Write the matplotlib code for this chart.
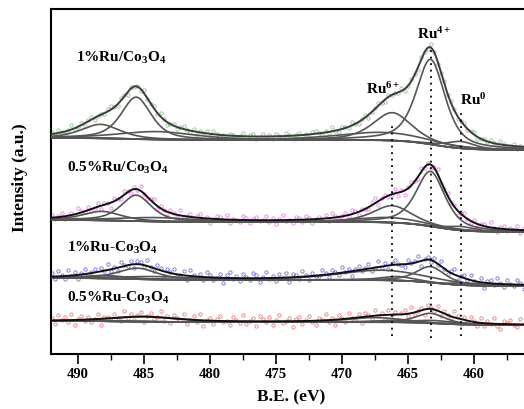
import numpy as np
import matplotlib
matplotlib.use("Agg")
import matplotlib.pyplot as plt
from matplotlib.ticker import MultipleLocator

plt.rcParams["font.family"] = ["Liberation Serif", "DejaVu Serif"]
plt.rcParams["font.weight"] = "bold"
plt.rcParams["mathtext.fontset"] = "custom"
plt.rcParams["mathtext.rm"] = "Liberation Serif:bold"
plt.rcParams["mathtext.it"] = "Liberation Serif:bold"
plt.rcParams["mathtext.bf"] = "Liberation Serif:bold"

# ---- fitted peak parameters (centre eV, height, FWHM eV) per sample ----
green_centers = [488.3, 485.6, 484.0, 467.0, 466.2, 463.3, 461.0]
green_heights = [14, 42, 8, 8, 28, 85, 7]
green_widths = [3.5, 2.7, 7.0, 8.0, 3.5, 2.6, 2.5]
green_base = [216, 214, 204]

magenta_centers = [488.2, 485.6, 484.0, 466.5, 466.2, 463.3, 461.0]
magenta_heights = [9, 26, 4, 5, 17, 55, 4]
magenta_widths = [3.5, 2.7, 7.0, 6.0, 3.5, 2.6, 2.5]
magenta_base = [134, 132, 122]

blue_centers = [488.0, 485.5, 484.0, 467.0, 465.8, 463.3, 461.0]
blue_heights = [3, 11, 3, 10, 4, 16, 2]
blue_widths = [4.0, 3.5, 7.0, 8.0, 3.0, 2.6, 2.0]
blue_base = [76, 74, 68]

red_centers = [485.0, 467.5, 466.0, 463.3, 463.0, 461.0]
red_heights = [5, 4.5, 2, 10, 3, 1.5]
red_widths = [6.0, 5.0, 3.0, 2.6, 4.0, 2.0]
red_base = [33, 32, 29]

# ---- measured points: deviation of each count from the fitted envelope ----
green_resid = [2, -1, 3, 0, -2, 1, 4, -1, 0, 2, -3, 1, 3, -2, 0, 1, -1, 2, 4, 0, -2, 3, 1, -3, 2, 0, 1, -2, 3, -1,
               0, 2, -1, 4, 1, -3, 0, 2, -2, 1, 3, 0, -1, 2, -3, 1, 0, 2, -2, 3, 1, -1, 0, -3, 2, 1, -2, 0, 3, -1,
               1, 2, -2, 0, 3, -1, 1, -3, 2, 0, -1, 3, 1, -2, 0, 2, -1, 1, -3, 2, 3, 0, -2, 1, -1, 4, 0, -2, 2, 1,
               -1, 3, 0, -2, 1, 2, -3, 0, 1, 3, -1, -2, 2, 0, 1, -1, 3, -2, 0, 2, 1, -3, 2, 0, -1, 4, 1, -2, 0, 3,
               -1, 2, 1, -3, 0, 2, -1, 1, 3, -2, 0, 1, -1, 2, 0, -2, 3, 1, -1, 0, 2, -3, 1, 0]
magenta_resid = [3, -2, 1, 4, -3, 0, 2, -4, 5, 1, -1, 3, -2, 0, 4, -3, 2, 1, -5, 3, 0, -2, 4, 1, -3, 2, -1, 5, 0, -2,
                 1, 4, -3, 2, 0, -4, 3, 1, -2, 5, -1, 0, 3, -3, 2, 4, -2, 1, -4, 0, 3, 2, -1, 5, -3, 1, 0, -2, 4, 2,
                 -3, 1, 3, -1, 0, 4, -2, 2, -4, 1, 5, -1, 0, -3, 3, 2, -2, 4, 1, -4, 0, 2, -1, 3, -3, 5, 1, -2, 0, 3,
                 -1, 4, 2, -3, 1, 0, -2, 3, 5, -4, 1, 2, -1, 0, 4, -3, 2, -5, 1, 3, 0, -2, 4, -1, 2, -3, 1, 5, -2, 0,
                 3, -1, 2, -4, 1, 4, 0, -2, 3, -3, 1, 2, -1, 5, 0, -4, 2, 3, -2, 1, 0, 4, -3, 2]
blue_resid = [4, -2, 5, 1, -3, 6, 0, 3, -4, 2, 5, -1, 1, 4, -5, 3, 0, 6, -2, 2, -3, 5, 1, -1, 4, -4, 3, 2, -2, 6,
              0, -3, 4, 2, -5, 3, 1, 5, -2, 0, 4, -4, 6, 1, -1, 3, -3, 5, 2, -2, 0, 4, -5, 3, 6, -1, 2, -3, 4, 1,
              -2, 5, 3, -4, 1, 6, -1, 2, -3, 4, 0, 5, -5, 3, 2, -2, 6, 1, -4, 3, 0, -1, 5, 2, -3, 4, 1, -2, 6, 0,
              3, -5, 2, 4, -1, 1, 5, -3, 0, 6, -2, 3, -4, 2, 5, 1, -1, -3, 4, 0, 2, 6, -5, 1, 3, -2, 4, -1, 5, 0,
              -3, 2, 6, -4, 1, 3, -1, 5, 0, -2, 4, -5, 2, 3, -1, 6, 1, -3, 4, 0, -2, 5, 2, -4]
red_resid = [2, -4, 5, 0, 3, -2, 6, -5, 1, 4, -1, 3, -3, 0, 5, -6, 2, 1, -2, 4, 0, -4, 6, -1, 3, -3, 2, 5, -5, 1,
             4, -2, 0, 6, -3, 2, -5, 3, 1, -1, 5, -4, 0, 4, -2, 6, -6, 1, 3, -3, 2, 5, -1, 0, -4, 4, 1, -2, 6, -3,
             0, 3, -5, 5, 2, -1, 4, -4, 1, 6, -2, 0, 3, -6, 2, 4, -3, 1, 5, -1, -4, 3, 0, 6, -2, 2, -5, 4, 1, -3,
             5, 0, -2, 3, -6, 4, 1, -3, 6, -1, 2, -4, 5, 0, 3, -5, 1, 4, -2, 6, -3, 0, 2, -6, 4, 1, -1, 5, -4, 3,
             0, -2, 6, 2, -5, 3, -1, 4, 1, -4, 5, -3, 2, 0, 6, -2, -5, 3, 1, 4, -1, -3, 5, 0]

sample_labels = [r"1%Ru/Co$_3$O$_4$", r"0.5%Ru/Co$_3$O$_4$", r"1%Ru-Co$_3$O$_4$", r"0.5%Ru-Co$_3$O$_4$"]
state_labels = [r"Ru$^{4+}$", r"Ru$^{6+}$", r"Ru$^{0}$"]
marker_lines = [(466.2, 18, 231), (463.3, 16, 307), (461.0, 18, 241)]


def pvoigt(x, c, h, w, eta=0.6):
    g = np.exp(-4 * np.log(2) * ((x - c) / w) ** 2)
    lor = 1.0 / (1.0 + 4 * ((x - c) / w) ** 2)
    return h * (eta * lor + (1 - eta) * g)


def step(x, c, w):
    return 1.0 / (1.0 + np.exp(-(x - c) / w))


def background(x, base):
    left, mid, right = base
    return right + (mid - right) * step(x, 463.0, 1.2) + (left - mid) * step(x, 486.0, 1.5)


fig = plt.figure(figsize=(5.24, 4.09), dpi=100)
ax = fig.add_axes([51 / 524, 55 / 409, 482.5 / 524, 345 / 409])
ax.set_xlim(492.05, 455.5)
ax.set_ylim(0, 345)

xf = np.linspace(492.05, 455.5, 900)

traces = [
    (green_centers, green_heights, green_widths, green_base, green_resid, "#6aaa6a", "#3c3c3c"),
    (magenta_centers, magenta_heights, magenta_widths, magenta_base, magenta_resid, "#e04ee0", "#111111"),
    (blue_centers, blue_heights, blue_widths, blue_base, blue_resid, "#3c3cc8", "#111111"),
    (red_centers, red_heights, red_widths, red_base, red_resid, "#d85050", "#111111"),
]

for cens, hts, wds, base, resid, mcol, ecol in traces:
    xd = np.linspace(492.0, 456.25, len(resid))
    bg_d = background(xd, base)
    env_d = bg_d + sum(pvoigt(xd, c, h, w) for c, h, w in zip(cens, hts, wds))
    ax.plot(xd, env_d + np.array(resid), ls="none", marker="o", ms=2.4, mfc="none",
            mec=mcol, mew=0.55, alpha=0.8, zorder=2)

    bg = background(xf, base)
    ax.plot(xf, bg, color="#606060", lw=1.2, zorder=3)
    for c, h, w in zip(cens, hts, wds):
        ax.plot(xf, bg + pvoigt(xf, c, h, w), color="#555555", lw=1.2, zorder=3)
    env = bg + sum(pvoigt(xf, c, h, w) for c, h, w in zip(cens, hts, wds))
    ax.plot(xf, env, color=ecol, lw=1.4, zorder=4)

for xe, y0, y1 in marker_lines:
    ax.plot([xe, xe], [y0, y1], color="black", lw=1.3, ls=(0, (1, 2.6)), zorder=5)

label_pos = [(490.16, 292), (490.84, 182), (490.84, 102), (490.84, 52)]
for (lx, ly), txt in zip(label_pos, sample_labels):
    ax.text(lx, ly, txt, fontsize=11, fontweight="bold", ha="left", va="baseline")

state_pos = [(464.32, 315), (468.19, 260), (461.07, 249)]
for (lx, ly), txt in zip(state_pos, state_labels):
    ax.text(lx, ly, txt, fontsize=11, fontweight="bold", ha="left", va="baseline")

ax.xaxis.set_major_locator(MultipleLocator(5))
ax.xaxis.set_minor_locator(MultipleLocator(2.5))
ax.tick_params(axis="x", which="major", direction="out", length=7, width=1.2,
               labelsize=10.5, pad=3)
ax.tick_params(axis="x", which="minor", direction="out", length=4, width=1.0)
ax.set_yticks([])
for lab in ax.get_xticklabels():
    lab.set_fontweight("bold")
for side in ["top", "bottom", "left", "right"]:
    ax.spines[side].set_linewidth(1.5)

fig.text(291 / 524, 1 - 397 / 409, "B.E. (eV)", ha="center", va="center",
         fontsize=12.5, fontweight="bold")
fig.text(20 / 524, 1 - 178 / 409, "Intensity (a.u.)", ha="center", va="center",
         rotation=90, fontsize=12.5, fontweight="bold")

fig.savefig("out.png", dpi=100)
